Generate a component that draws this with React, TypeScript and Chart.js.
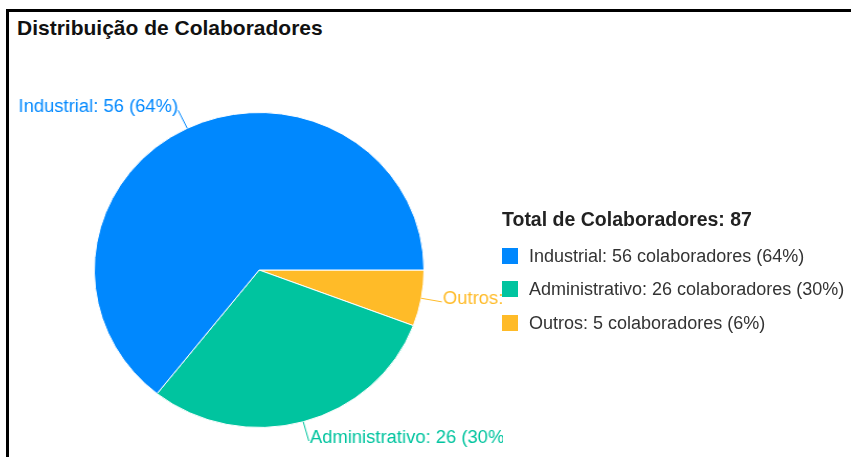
import React, { useEffect, useRef } from "react";
import { Chart, registerables } from "chart.js";

Chart.register(...registerables);

// ---- data ----
const categories = ["Industrial", "Administrativo", "Outros"];
const values = [56, 26, 5];
const colors = ["#0088FE", "#00C49F", "#FFBB28"];
const chartTitle = "Distribuição de Colaboradores";
const legendTitle = "Total de Colaboradores";
const unitLabel = "colaboradores";

const total = values.reduce((a, b) => a + b, 0);
const pct = (v: number) => Math.round((v / total) * 100);

const FONT = '"Liberation Sans", Arial, Helvetica, sans-serif';
const STRETCH_X = 1.0466;

const outsideLabels = {
  id: "outsideLabels",
  afterDatasetsDraw(chart: any) {
    const ctx = chart.ctx;
    const meta = chart.getDatasetMeta(0);
    const ds = chart.data.datasets[0];
    meta.data.forEach((arc: any, i: number) => {
      const { x, y, startAngle, endAngle, outerRadius } = arc.getProps(
        ["x", "y", "startAngle", "endAngle", "outerRadius"],
        true
      );
      const mid = (startAngle + endAngle) / 2;
      const c = Math.cos(mid);
      const s = Math.sin(mid);
      const x1 = x + c * outerRadius;
      const y1 = y + s * outerRadius;
      const x2 = x + c * (outerRadius + 20);
      const y2 = y + s * (outerRadius + 20);
      const color = ds.backgroundColor[i];
      const label = chart.data.labels[i];
      const v = ds.data[i];
      ctx.save();
      ctx.strokeStyle = color;
      ctx.lineWidth = 1;
      ctx.beginPath();
      ctx.moveTo(x1, y1);
      ctx.lineTo(x2, y2);
      ctx.stroke();
      ctx.fillStyle = color;
      ctx.font = `17.6px ${FONT}`;
      ctx.textAlign = c >= 0 ? "left" : "right";
      ctx.textBaseline = "middle";
      ctx.fillText(`${label}: ${v} (${pct(v)}%)`, x2 + (c >= 0 ? 1 : 0), y2 - 3);
      ctx.restore();
    });
  },
};

function PieChart() {
  const ref = useRef<HTMLCanvasElement | null>(null);
  useEffect(() => {
    if (!ref.current) return;
    // drawn clockwise from 3 o'clock, so reverse to get the counter-clockwise order
    const order = categories.map((_, i) => i).reverse();
    const chart = new Chart(ref.current, {
      type: "pie",
      data: {
        labels: order.map((i) => categories[i]),
        datasets: [
          {
            data: order.map((i) => values[i]),
            backgroundColor: order.map((i) => colors[i]),
            borderColor: "#ffffff",
            borderWidth: 1,
            radius: 157.5,
          } as any,
        ],
      },
      options: {
        responsive: false,
        animation: false,
        rotation: 90,
        layout: { padding: { left: 6, right: 0, top: 43, bottom: 0 } },
        plugins: {
          legend: { display: false },
          tooltip: { enabled: false },
          title: { display: false },
        },
      },
      plugins: [outsideLabels],
    });
    return () => chart.destroy();
  }, []);
  return (
    <div
      style={{
        position: "absolute",
        left: 9,
        top: 40,
        width: 472,
        height: 417,
        overflow: "hidden",
        transform: `scaleX(${STRETCH_X})`,
        transformOrigin: "0 0",
      }}
    >
      <canvas ref={ref} width={472} height={417} style={{ width: 472, height: 417 }} />
    </div>
  );
}

export default function App() {
  return (
    <div
      style={{
        position: "absolute",
        left: 0,
        top: 0,
        width: 851,
        height: 457,
        overflow: "hidden",
        background: "#ffffff",
        fontFamily: FONT,
      }}
    >
      <div
        style={{
          position: "absolute",
          left: 6,
          top: 9,
          width: 1000,
          height: 1000,
          borderTop: "3px solid #000",
          borderLeft: "3px solid #000",
        }}
      />
      <div
        style={{
          position: "absolute",
          left: 17,
          top: 17,
          fontSize: 21,
          lineHeight: "21px",
          fontWeight: 700,
          color: "#111",
          whiteSpace: "nowrap",
        }}
      >
        {chartTitle}
      </div>
      <PieChart />
      <div style={{ position: "absolute", left: 502, top: 210, whiteSpace: "nowrap" }}>
        <div style={{ fontSize: 19.5, lineHeight: "19.5px", fontWeight: 700, color: "#222" }}>
          {legendTitle}: {total}
        </div>
        <div
          style={{
            display: "flex",
            flexDirection: "column",
            gap: 13.5,
            marginTop: 16,
          }}
        >
          {categories.map((cat, i) => (
            <div key={cat} style={{ display: "flex", alignItems: "center", height: 20 }}>
              <span
                style={{
                  display: "inline-block",
                  width: 16,
                  height: 16,
                  background: colors[i],
                  marginRight: 11,
                }}
              />
              <span style={{ fontSize: 18, lineHeight: "20px", color: "#333" }}>
                {cat}: {values[i]} {unitLabel} ({pct(values[i])}%)
              </span>
            </div>
          ))}
        </div>
      </div>
    </div>
  );
}
